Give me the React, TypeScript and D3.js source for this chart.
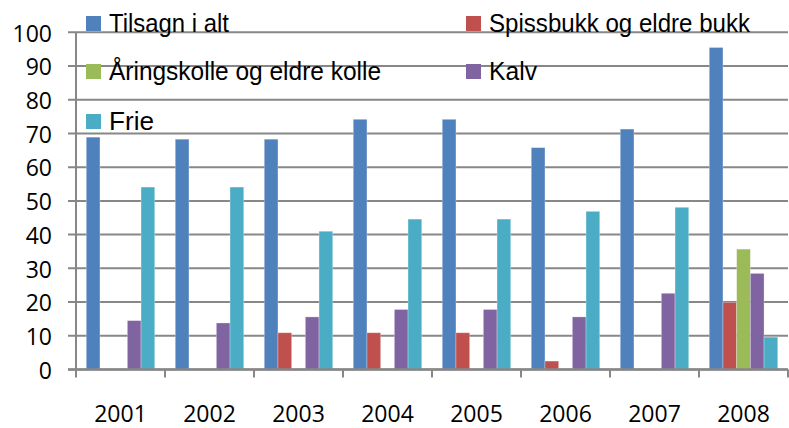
import React from "react";
import { scaleBand, scaleLinear, range } from "d3";

// categories and series
const years = ["2001", "2002", "2003", "2004", "2005", "2006", "2007", "2008"];
const tilsagn = [68.9, 68.3, 68.3, 74.2, 74.2, 65.8, 71.3, 95.5];
const spissbukk = [0, 0, 10.9, 10.9, 10.9, 2.5, 0, 19.9];
const aaringskolle = [0, 0, 0, 0, 0, 0, 0, 35.7];
const kalv = [14.5, 13.8, 15.6, 17.8, 17.8, 15.6, 22.6, 28.5];
const frie = [54.1, 54.1, 41.0, 44.6, 44.6, 46.9, 48.1, 9.6];
const yTicks = [0, 10, 20, 30, 40, 50, 60, 70, 80, 90, 100];

const seriesNames = [
  "Tilsagn i alt",
  "Spissbukk og eldre bukk",
  "Åringskolle og eldre kolle",
  "Kalv",
  "Frie",
];
const seriesValues = [tilsagn, spissbukk, aaringskolle, kalv, frie];
const colors = ["#4F81BD", "#C0504D", "#9BBB59", "#8064A2", "#4BACC6"];

const width = 789;
const height = 428;
const margin = { top: 32.3, right: 1, bottom: 58.5, left: 76 };
const innerWidth = width - margin.left - margin.right;
const innerHeight = height - margin.top - margin.bottom;

const gridColor = "#878787";
const labelFont = "'Open Sans', sans-serif";

// legend layout: [column x, baseline y, text width]
const legendPos = [
  { x: 86, y: 32, w: 120 },
  { x: 466, y: 32, w: 261 },
  { x: 86, y: 80, w: 272 },
  { x: 466, y: 80, w: 48 },
  { x: 86, y: 130, w: 45 },
];

const App = () => {
  const x0 = scaleBand().domain(years).range([0, innerWidth]).padding(0);
  const step = x0.bandwidth();
  const barW = step / 6.5; // excel gap width 150%
  const x1 = scaleBand()
    .domain(seriesNames)
    .range([barW * 0.75, step - barW * 0.75])
    .padding(0);

  const y = scaleLinear().domain([0, 100]).range([innerHeight, 0]);

  return (
    <svg
      width={width}
      height={height}
      style={{ position: "absolute", left: 0, top: 0, background: "#fff" }}
    >
      <g transform={`translate(${margin.left},${margin.top})`}>
        {/* gridlines + y ticks */}
        {yTicks.map((t) => (
          <g key={t} transform={`translate(0,${y(t)})`}>
            <line x1={-8} x2={innerWidth} stroke={gridColor} strokeWidth={2} />
            <text
              x={-24}
              dy="0.4em"
              textAnchor="end"
              fontFamily={labelFont}
              fontSize={23}
              fill="#000"
            >
              {t}
            </text>
          </g>
        ))}

        {/* bars */}
        {years.map((yr, i) => (
          <g key={yr} transform={`translate(${x0(yr)},0)`}>
            {seriesNames.map((s, k) => {
              const v = seriesValues[k][i];
              if (!v) return null;
              return (
                <rect
                  key={s}
                  x={x1(s)}
                  y={y(v)}
                  width={x1.bandwidth()}
                  height={innerHeight - y(v)}
                  fill={colors[k]}
                  stroke="#ffffff"
                  strokeOpacity={0.35}
                  strokeWidth={0.8}
                />
              );
            })}
          </g>
        ))}

        {/* axes */}
        <line x1={0} x2={0} y1={0} y2={innerHeight} stroke={gridColor} strokeWidth={2} />
        <line x1={-8} x2={innerWidth} y1={innerHeight} y2={innerHeight} stroke={gridColor} strokeWidth={2.5} />
        {range(years.length + 1).map((i) => (
          <line
            key={i}
            x1={i * step}
            x2={i * step}
            y1={innerHeight}
            y2={innerHeight + 8}
            stroke={gridColor}
            strokeWidth={2}
          />
        ))}
        {years.map((yr) => (
          <text
            key={yr}
            x={(x0(yr) || 0) + step / 2}
            y={innerHeight + 53}
            textAnchor="middle"
            fontFamily={labelFont}
            fontSize={23}
            fill="#000"
          >
            {yr}
          </text>
        ))}
      </g>

      {/* legend */}
      {seriesNames.map((s, k) => {
        const p = legendPos[k];
        return (
          <g key={s}>
            <rect x={p.x} y={p.y - 16} width={15} height={15} fill={colors[k]} />
            <text
              x={p.x + 23}
              y={p.y}
              fontFamily="'Liberation Sans', Arial, sans-serif"
              fontSize={26}
              textLength={p.w}
              lengthAdjust="spacingAndGlyphs"
              fill="#000"
            >
              {s}
            </text>
          </g>
        );
      })}
    </svg>
  );
};

export default App;
